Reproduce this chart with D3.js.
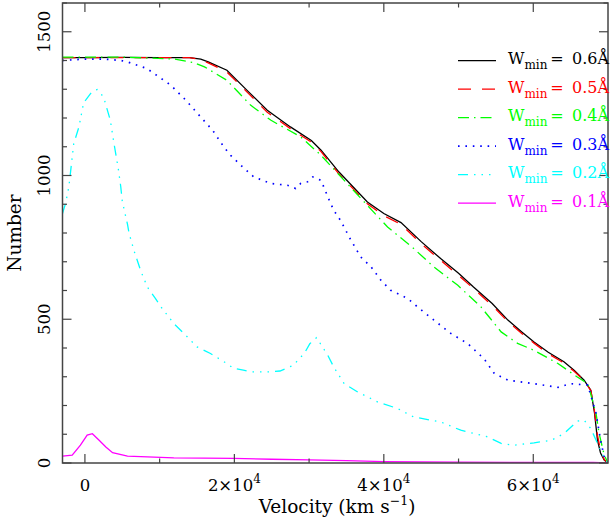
<!DOCTYPE html>
<html>
<head>
<meta charset="utf-8">
<script src="https://cdn.jsdelivr.net/npm/d3@7"></script>
<style>
  html, body { margin: 0; padding: 0; background: #fff; }
  svg { display: block; }
  text { font-family: "DejaVu Serif", serif; }
</style>
</head>
<body>
<svg id="chart" width="610" height="521"></svg>
<script>
// ---- data (velocity in km/s, number) ----
const seriesLabels = ["0.6Å", "0.5Å", "0.4Å", "0.3Å", "0.2Å", "0.1Å"];
const seriesColors = ["#000000", "#ff0000", "#00ff00", "#0000ff", "#00ffff", "#ff00ff"];
const seriesDashes = ["none", "13,11", "11,5,1.5,5", "1.6,5.8", "10,6,1.5,6,1.5,6,1.5,6", "none"];

const w06 = [[-3000,1410],[0,1410],[5000,1411],[10000,1410],[14000,1410],[15500,1405],[16500,1395],[19000,1366],[21700,1296],[24400,1227],[27500,1169],[30300,1122],[31600,1088],[34000,1012],[37800,908],[40000,868],[42300,836],[45000,770],[47600,711],[50000,660],[52000,612],[54500,555],[56600,497],[58500,455],[60100,421],[62000,385],[64100,352],[65500,322],[66800,288],[67700,253],[68200,173],[68600,79],[69000,35],[69500,10],[70000,0]];
const w05 = [[-3000,1410],[0,1410],[5000,1410],[10000,1410],[14000,1410],[15500,1403],[16500,1392],[19000,1360],[21700,1290],[24400,1220],[27500,1163],[30300,1116],[31600,1083],[34000,1005],[37800,902],[40000,860],[42300,830],[45000,763],[47600,705],[50000,652],[52000,607],[54500,548],[56600,492],[58500,450],[60100,417],[62000,380],[64100,348],[65500,318],[66800,287],[67700,252],[68200,180],[68600,95],[69000,45],[69500,12],[70000,0]];
const w04 = [[-3000,1412],[5000,1412],[9000,1408],[12000,1405],[14500,1393],[16000,1378],[19000,1331],[22200,1244],[24900,1192],[28900,1134],[31600,1070],[34700,983],[37800,896],[40500,821],[44000,746],[46700,682],[49900,618],[53000,543],[55700,456],[57900,416],[60100,392],[63300,346],[65900,299],[67300,276],[68400,173],[68800,104],[69500,27],[70000,0]];
const w03 = [[-3000,1400],[0,1405],[2500,1405],[4800,1400],[5700,1395],[8300,1372],[11500,1314],[13500,1262],[15300,1209],[17100,1157],[18600,1099],[19500,1070],[21100,1030],[22600,995],[24900,972],[27100,966],[28200,955],[28900,973],[29800,978],[30500,995],[31600,983],[32700,914],[33300,879],[34200,844],[35600,775],[36900,717],[38300,682],[39600,636],[40900,601],[43200,572],[44500,543],[46700,497],[49000,450],[51200,416],[53400,363],[54800,311],[56600,288],[60100,276],[63300,263],[65000,276],[67300,271],[68400,173],[69000,80],[69500,20],[70000,0]];
const w02 = [[-3000,868],[-2600,902],[-2150,960],[-1500,1110],[-800,1169],[-150,1256],[100,1262],[750,1285],[1200,1296],[1650,1299],[2500,1273],[3400,1192],[3900,1110],[4500,1018],[4800,960],[5000,910],[5700,830],[5900,800],[6550,740],[7450,670],[8350,612],[9450,572],[10350,537],[11900,485],[13500,444],[15000,404],[16800,381],[19000,346],[19900,329],[21200,323],[22100,317],[24700,317],[26100,320],[27900,340],[29400,383],[30100,415],[31000,436],[32500,375],[33300,334],[34700,276],[36500,247],[39200,212],[41800,190],[44000,160],[47600,143],[50300,114],[53900,91],[55700,68],[57400,62],[60100,70],[62400,79],[64100,102],[65900,146],[66800,149],[67700,120],[68600,68],[69500,16],[70000,0]];
const w01 = [[-3000,24],[-1700,27],[-600,62],[300,97],[1000,102],[1900,79],[2800,56],[3700,36],[5700,24],[11900,18],[19900,16],[25000,13],[30000,11],[35000,8],[40000,5],[50000,3],[60000,2],[68000,2],[70000,0]];
const seriesData = [w06, w05, w04, w03, w02, w01];

const xMajorTicks = [0, 20000, 40000, 60000];
const xMajorLabels = [["0", ""], ["2×10", "4"], ["4×10", "4"], ["6×10", "4"]];
const xMinorTicks = [10000, 30000, 50000];
const yMajorTicks = [0, 500, 1000, 1500];
const yMinorStep = 100;

// ---- layout ----
const L = 62.5, R = 608, T = 3, B = 463;
const x = d3.scaleLinear().domain([-3000, 70000]).range([L, R]);
const y = d3.scaleLinear().domain([0, 1600]).range([B, T]);

const svg = d3.select("#chart");

svg.append("defs").append("clipPath").attr("id", "clip")
  .append("rect").attr("x", L).attr("y", T).attr("width", R - L).attr("height", B - T);

const line = d3.line().x(d => x(d[0])).y(d => y(d[1]));

const plot = svg.append("g").attr("clip-path", "url(#clip)");
seriesData.forEach((data, i) => {
  plot.append("path")
    .datum(data)
    .attr("d", line)
    .attr("fill", "none")
    .attr("stroke", seriesColors[i])
    .attr("stroke-width", i === 3 ? 1.7 : 1.3)
    .attr("stroke-dasharray", seriesDashes[i]);
});

// ---- frame & ticks ----
const axisColor = "#444";
const fr = svg.append("g");
fr.append("rect").attr("x", L).attr("y", T).attr("width", R - L).attr("height", B - T)
  .attr("fill", "none").attr("stroke", axisColor).attr("stroke-width", 1.5);

const majLen = 9, minLen = 4.5;
function xTick(v, len) {
  fr.append("line").attr("x1", x(v)).attr("x2", x(v)).attr("y1", B).attr("y2", B - len)
    .attr("stroke", axisColor).attr("stroke-width", 1.2);
  fr.append("line").attr("x1", x(v)).attr("x2", x(v)).attr("y1", T).attr("y2", T + len)
    .attr("stroke", axisColor).attr("stroke-width", 1.2);
}
function yTick(v, len) {
  fr.append("line").attr("x1", L).attr("x2", L + len).attr("y1", y(v)).attr("y2", y(v))
    .attr("stroke", axisColor).attr("stroke-width", 1.2);
  fr.append("line").attr("x1", R).attr("x2", R - len).attr("y1", y(v)).attr("y2", y(v))
    .attr("stroke", axisColor).attr("stroke-width", 1.2);
}
xMajorTicks.forEach(v => xTick(v, majLen));
xMinorTicks.forEach(v => xTick(v, minLen));
d3.range(0, 1601, yMinorStep).forEach(v => {
  yTick(v, yMajorTicks.includes(v) ? majLen : minLen);
});

// tick labels
xMajorTicks.forEach((v, i) => {
  const t = svg.append("text").attr("x", x(v)).attr("y", 491)
    .attr("text-anchor", "middle").attr("font-size", 16.5).attr("fill", "#000");
  t.append("tspan").text(xMajorLabels[i][0]);
  if (xMajorLabels[i][1]) {
    t.append("tspan").attr("dy", -8).attr("font-size", 12).text(xMajorLabels[i][1]);
  }
});
yMajorTicks.forEach(v => {
  svg.append("text")
    .attr("transform", `translate(50,${y(v)}) rotate(-90)`)
    .attr("text-anchor", "middle").attr("font-size", 16.5).attr("fill", "#000")
    .text(String(v));
});

// axis titles
const xt = svg.append("text").attr("x", 337).attr("y", 513)
  .attr("text-anchor", "middle").attr("font-size", 18.5).attr("fill", "#000");
xt.append("tspan").text("Velocity (km s");
xt.append("tspan").attr("dy", -8).attr("font-size", 12.5).text("−1");
xt.append("tspan").attr("dy", 8).text(")");

svg.append("text")
  .attr("transform", `translate(20.5,${(T + B) / 2}) rotate(-90)`)
  .attr("text-anchor", "middle").attr("font-size", 18.5).attr("fill", "#000")
  .text("Number");

// ---- legend ----
const legY0 = 60.7, legDy = 28.5;
seriesLabels.forEach((lab, i) => {
  const yy = legY0 + i * legDy;
  svg.append("line").attr("x1", 458).attr("x2", 496).attr("y1", yy).attr("y2", yy)
    .attr("stroke", seriesColors[i]).attr("stroke-width", i === 3 ? 1.7 : 1.3)
    .attr("stroke-dasharray", seriesDashes[i]);
  const t = svg.append("text").attr("x", 508).attr("y", yy + 3.5)
    .attr("font-size", 16).attr("fill", seriesColors[i]);
  t.append("tspan").text("W");
  t.append("tspan").attr("dy", 5).attr("font-size", 12).text("min");
  svg.append("text").attr("x", 557).attr("y", yy + 3.5).attr("text-anchor", "middle")
    .attr("font-size", 16).attr("fill", seriesColors[i]).text("=");
  svg.append("text").attr("x", 572).attr("y", yy + 3.5)
    .attr("font-size", 16).attr("fill", seriesColors[i]).text(lab);
});
</script>
</body>
</html>
